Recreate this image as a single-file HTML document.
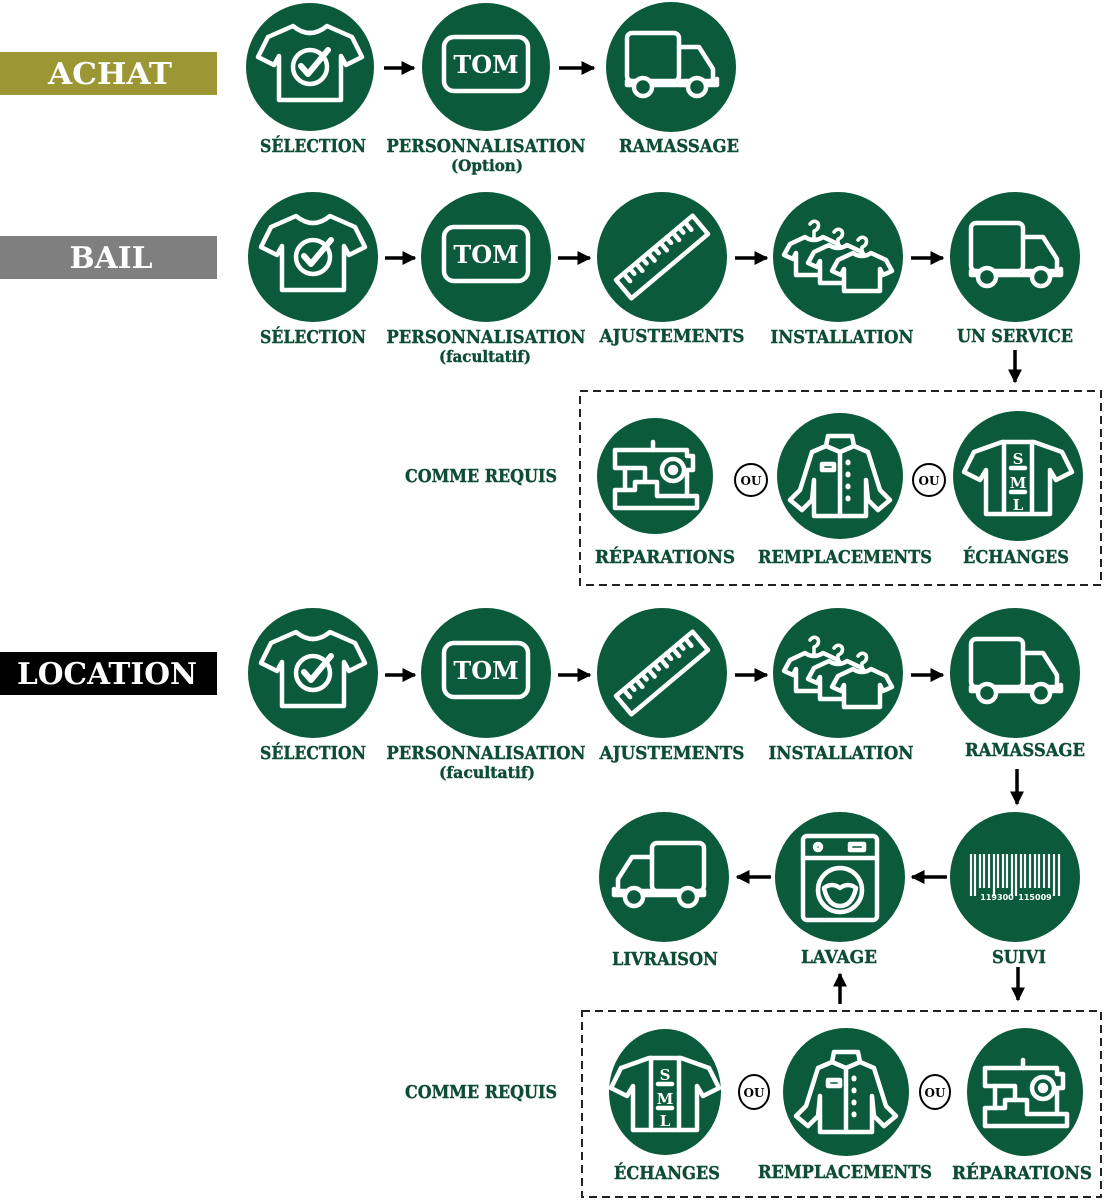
<!DOCTYPE html>
<html><head><meta charset="utf-8"><style>
html,body{margin:0;padding:0;background:#fff;}
svg{display:block;}
.l{font-family:"DejaVu Serif","Liberation Serif",serif;font-weight:bold;fill:#0e4d35;font-size:18px;text-anchor:middle;stroke:#0e4d35;stroke-width:0.4;}
.s{font-size:16px;}
.h{font-family:"DejaVu Serif","Liberation Serif",serif;font-weight:bold;fill:#fff;font-size:30px;text-anchor:middle;}
.i{fill:none;stroke:#fff;stroke-width:4.5;stroke-linejoin:round;stroke-linecap:round;}
</style></head><body>
<svg width="1104" height="1200" viewBox="0 0 1104 1200" xmlns="http://www.w3.org/2000/svg">
<defs>
<marker id="a" viewBox="0 0 10 10" refX="9" refY="5" markerWidth="4" markerHeight="4" orient="auto"><path d="M0,0L10,5L0,10z" fill="#000"/></marker>
<g id="shirt" class="i">
<path d="M-17,-38 L-42,-27 L-52,-7 L-36,1 L-31,-8 L-31,36 L31,36 L31,-8 L36,1 L52,-7 L42,-27 L17,-38 Q0,-24 -17,-38Z"/>
<circle cx="0" cy="3" r="17"/>
<path d="M-9,2 L-2,10 L18,-14" stroke-width="6"/>
</g>
<g id="tom">
<rect x="-42" y="-27" width="84" height="54" rx="10" class="i"/>
<text x="0" y="9" font-family="DejaVu Serif,serif" font-weight="bold" font-size="24" fill="#fff" text-anchor="middle">TOM</text>
</g>
<g id="truck" class="i">
<rect x="-44" y="-32" width="52" height="48" rx="5"/>
<path d="M8,-18 L28,-18 L42,4 L42,16 L8,16"/>
<path d="M-44,16 L-44,20 L46,20 L46,14"/>
<circle cx="-28" cy="22" r="9" fill="#0b5a3c"/>
<circle cx="26" cy="22" r="9" fill="#0b5a3c"/>
</g>
<g id="truckL" transform="scale(-1,1)"><use href="#truck"/></g>
<g id="ruler" class="i" transform="rotate(-40)">
<rect x="-50" y="-12" width="100" height="24"/>
<path d="M-40,-12v10M-32,-12v7M-24,-12v10M-16,-12v7M-8,-12v10M0,-12v7M8,-12v10M16,-12v7M24,-12v10M32,-12v7M40,-12v10"/>
</g>
<g id="ts" class="i">
<path d="M-9,-14 L-24,-7 L-30,4 L-21,8 L-18,2 L-18,24 L18,24 L18,2 L21,8 L30,4 L24,-7 L9,-14 Q0,-8 -9,-14Z" fill="#0b5a3c"/>
<path d="M0,-14 L0,-20 Q6,-22 4,-28 Q0,-32 -4,-27" stroke-width="3.5"/>
</g>
<g id="hang"><use href="#ts" x="-24" y="-6"/><use href="#ts" x="0" y="2"/><use href="#ts" x="24" y="10"/></g>
<g id="sew" class="i">
<path d="M-42,-26 L30,-26 L30,-20 L36,-20 L36,-6 L30,-6 L30,20 L40,20 L40,32 L-42,32 L-42,14 L-32,14 L-32,-8 L-42,-8Z"/>
<path d="M-32,-8 L-12,-8 L-12,6 L-22,6 L-22,14 L-32,14" />
<path d="M-4,-26 L-4,-34"/>
<circle cx="16" cy="-6" r="11"/><circle cx="16" cy="-6" r="3" fill="#fff"/>
<path d="M-12,6 L0,6 L0,20 L30,20"/>
</g>
<g id="jacket" class="i">
<path d="M-12,-40 L12,-40 L14,-30 L28,-24 L40,14 L50,24 L38,34 L28,24 L26,4 L26,40 L-26,40 L-26,4 L-28,24 L-38,34 L-50,24 L-40,14 L-28,-24 L-14,-30Z"/>
<path d="M-14,-30 L0,-24 L14,-30 M0,-24 L0,40"/>
<rect x="-18" y="-12" width="12" height="6"/>
<path d="M8,-14v1M8,-2v1M8,10v1M8,22v1" stroke-width="5"/>
</g>
<g id="sml">
<path class="i" d="M-16,-36 L-44,-26 L-54,-6 L-38,2 L-32,-8 L-32,36 L32,36 L32,-8 L38,2 L54,-6 L44,-26 L16,-36Z"/>
<path class="i" d="M-14,-36 L-14,36 M14,-36 L14,36"/>
<text x="0" y="-14" font-family="DejaVu Serif,serif" font-weight="bold" font-size="15" fill="#fff" text-anchor="middle">S</text>
<text x="0" y="10" font-family="DejaVu Serif,serif" font-weight="bold" font-size="15" fill="#fff" text-anchor="middle">M</text>
<text x="0" y="32" font-family="DejaVu Serif,serif" font-weight="bold" font-size="15" fill="#fff" text-anchor="middle">L</text>
<path class="i" d="M-7,-10h14M-7,14h14" stroke-width="3"/>
</g>
<g id="bar">
<path stroke="#fff" d="M-44,-26v42M-40,-26v42M-35,-26v34M-31,-26v34M-26,-26v34M-21,-26v42M-17,-26v34M-12,-26v34M-8,-26v34M-3,-26v42M1,-26v42M6,-26v34M10,-26v34M15,-26v34M20,-26v34M24,-26v34M29,-26v34M34,-26v34M39,-26v42M44,-26v42" stroke-width="2.2"/>
<text x="-18" y="20" font-family="DejaVu Sans,sans-serif" font-weight="bold" font-size="8" fill="#fff" text-anchor="middle">119300</text>
<text x="20" y="20" font-family="DejaVu Sans,sans-serif" font-weight="bold" font-size="8" fill="#fff" text-anchor="middle">115009</text>
</g>
<g id="wash" class="i">
<rect x="-37" y="-44" width="74" height="84" rx="4"/>
<path d="M-37,-22h74"/>
<circle cx="-22" cy="-33" r="3"/><rect x="10" y="-36" width="14" height="6"/>
<circle cx="0" cy="10" r="22"/>
<path d="M-16,8 Q-8,2 0,8 Q8,2 16,8 Q12,26 0,26 Q-12,26 -16,8Z"/>
</g>
</defs>

<rect x="0" y="52" width="217" height="43" fill="#9c9634"/>
<text class="h" x="110" y="84" textLength="124" lengthAdjust="spacingAndGlyphs">ACHAT</text>
<rect x="0" y="236" width="217" height="43" fill="#7f7f7f"/>
<text class="h" x="111" y="268" textLength="83" lengthAdjust="spacingAndGlyphs">BAIL</text>
<rect x="0" y="652" width="217" height="43" fill="#000"/>
<text class="h" x="107" y="684" textLength="180" lengthAdjust="spacingAndGlyphs">LOCATION</text>

<g fill="#0b5a3c">
<circle cx="310" cy="67" r="64"/><circle cx="486" cy="67" r="64"/><circle cx="671" cy="67" r="65"/>
<circle cx="313" cy="257" r="65"/><circle cx="486" cy="257" r="65"/><circle cx="662" cy="257" r="65"/><circle cx="838" cy="257" r="65"/><circle cx="1015" cy="257" r="65"/>
<circle cx="655" cy="476" r="58"/><circle cx="840" cy="476" r="63"/><circle cx="1018" cy="476" r="65"/>
<circle cx="313" cy="673" r="65"/><circle cx="486" cy="673" r="65"/><circle cx="662" cy="673" r="65"/><circle cx="838" cy="673" r="65"/><circle cx="1015" cy="673" r="65"/>
<circle cx="664" cy="877" r="65"/><circle cx="840" cy="877" r="65"/><circle cx="1015" cy="877" r="65"/>
<ellipse cx="665" cy="1092" rx="56" ry="63"/><ellipse cx="846" cy="1092" rx="63" ry="64"/><ellipse cx="1025" cy="1092" rx="58" ry="64"/>
</g>

<use href="#shirt" x="310" y="64"/><use href="#tom" x="486" y="64"/><use href="#truck" x="671" y="65"/>
<use href="#shirt" x="313" y="254"/><use href="#tom" x="486" y="254"/><use href="#ruler" x="662" y="257"/><use href="#hang" x="838" y="257"/><use href="#truck" x="1015" y="255"/>
<use href="#sew" x="657" y="476"/><use href="#jacket" x="840" y="476"/><use href="#sml" x="1018" y="478"/>
<use href="#shirt" x="313" y="670"/><use href="#tom" x="486" y="670"/><use href="#ruler" x="662" y="673"/><use href="#hang" x="838" y="673"/><use href="#truck" x="1015" y="671"/>
<use href="#truckL" x="660" y="875"/><use href="#wash" x="840" y="880"/><use href="#bar" x="1015" y="880"/>
<use href="#sml" x="665" y="1094"/><use href="#jacket" x="846" y="1092"/><use href="#sew" x="1027" y="1094"/>

<g stroke="#000" stroke-width="3.5" marker-end="url(#a)">
<line x1="384" y1="68" x2="414" y2="68"/><line x1="559" y1="68" x2="594" y2="68"/>
<line x1="385" y1="258" x2="415" y2="258"/><line x1="558" y1="258" x2="590" y2="258"/><line x1="735" y1="258" x2="767" y2="258"/><line x1="911" y1="258" x2="943" y2="258"/>
<line x1="1015" y1="350" x2="1015" y2="382"/>
<line x1="385" y1="675" x2="415" y2="675"/><line x1="558" y1="675" x2="590" y2="675"/><line x1="735" y1="675" x2="767" y2="675"/><line x1="911" y1="675" x2="943" y2="675"/>
<line x1="1017" y1="769" x2="1017" y2="804"/>
<line x1="947" y1="877" x2="912" y2="877"/><line x1="771" y1="877" x2="737" y2="877"/>
<line x1="1018" y1="967" x2="1018" y2="1000"/>
<line x1="840" y1="1004" x2="840" y2="974"/>
</g>

<rect x="580" y="391" width="521" height="194" fill="none" stroke="#222" stroke-width="2" stroke-dasharray="8,5"/>
<rect x="582" y="1011" width="519" height="186" fill="none" stroke="#222" stroke-width="2" stroke-dasharray="8,5"/>

<g fill="#fff" stroke="#000" stroke-width="2">
<circle cx="751" cy="480" r="16"/><circle cx="929" cy="480" r="16"/>
<ellipse cx="754" cy="1092" rx="15" ry="17"/><ellipse cx="935" cy="1092" rx="15" ry="17"/>
</g>
<g class="l" style="font-size:12px;fill:#000;stroke:none">
<text x="751" y="485">OU</text><text x="929" y="485">OU</text><text x="754" y="1097">OU</text><text x="935" y="1097">OU</text>
</g>

<g class="l">
<text x="313" y="152" textLength="106" lengthAdjust="spacingAndGlyphs">SÉLECTION</text>
<text x="486" y="152" textLength="199" lengthAdjust="spacingAndGlyphs">PERSONNALISATION</text>
<text class="s" x="487" y="171" textLength="72" lengthAdjust="spacingAndGlyphs">(Option)</text>
<text x="679" y="152" textLength="120" lengthAdjust="spacingAndGlyphs">RAMASSAGE</text>

<text x="313" y="343" textLength="106" lengthAdjust="spacingAndGlyphs">SÉLECTION</text>
<text x="486" y="343" textLength="199" lengthAdjust="spacingAndGlyphs">PERSONNALISATION</text>
<text class="s" x="485" y="362" textLength="92" lengthAdjust="spacingAndGlyphs">(facultatif)</text>
<text x="672" y="342" textLength="145" lengthAdjust="spacingAndGlyphs">AJUSTEMENTS</text>
<text x="842" y="343" textLength="143" lengthAdjust="spacingAndGlyphs">INSTALLATION</text>
<text x="1015" y="342" textLength="116" lengthAdjust="spacingAndGlyphs">UN SERVICE</text>

<text x="481" y="482" textLength="152" lengthAdjust="spacingAndGlyphs">COMME REQUIS</text>
<text x="665" y="563" textLength="140" lengthAdjust="spacingAndGlyphs">RÉPARATIONS</text>
<text x="845" y="563" textLength="174" lengthAdjust="spacingAndGlyphs">REMPLACEMENTS</text>
<text x="1016" y="563" textLength="106" lengthAdjust="spacingAndGlyphs">ÉCHANGES</text>

<text x="313" y="759" textLength="106" lengthAdjust="spacingAndGlyphs">SÉLECTION</text>
<text x="486" y="759" textLength="199" lengthAdjust="spacingAndGlyphs">PERSONNALISATION</text>
<text class="s" x="487" y="778" textLength="96" lengthAdjust="spacingAndGlyphs">(facultatif)</text>
<text x="672" y="759" textLength="145" lengthAdjust="spacingAndGlyphs">AJUSTEMENTS</text>
<text x="841" y="759" textLength="145" lengthAdjust="spacingAndGlyphs">INSTALLATION</text>
<text x="1025" y="756" textLength="120" lengthAdjust="spacingAndGlyphs">RAMASSAGE</text>

<text x="665" y="965" textLength="106" lengthAdjust="spacingAndGlyphs">LIVRAISON</text>
<text x="839" y="963" textLength="76" lengthAdjust="spacingAndGlyphs">LAVAGE</text>
<text x="1019" y="963" textLength="54" lengthAdjust="spacingAndGlyphs">SUIVI</text>

<text x="481" y="1098" textLength="152" lengthAdjust="spacingAndGlyphs">COMME REQUIS</text>
<text x="667" y="1179" textLength="106" lengthAdjust="spacingAndGlyphs">ÉCHANGES</text>
<text x="845" y="1178" textLength="174" lengthAdjust="spacingAndGlyphs">REMPLACEMENTS</text>
<text x="1022" y="1179" textLength="140" lengthAdjust="spacingAndGlyphs">RÉPARATIONS</text>
</g>
</svg>
</body></html>
